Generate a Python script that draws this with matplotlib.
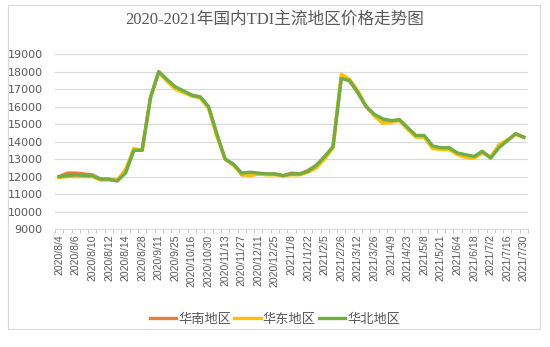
import matplotlib.pyplot as plt
from matplotlib.patches import Rectangle

dates = ['2020/8/4', '2020/8/5', '2020/8/6', '2020/8/7', '2020/8/10', '2020/8/11',
         '2020/8/12', '2020/8/13', '2020/8/14', '2020/8/21', '2020/8/28', '2020/9/4',
         '2020/9/11', '2020/9/18', '2020/9/25', '2020/10/9', '2020/10/16', '2020/10/23',
         '2020/10/30', '2020/11/6', '2020/11/13', '2020/11/20', '2020/11/27', '2020/12/4',
         '2020/12/11', '2020/12/18', '2020/12/25', '2021/1/1', '2021/1/8', '2021/1/15',
         '2021/1/22', '2021/1/29', '2021/2/5', '2021/2/19', '2021/2/26', '2021/3/5',
         '2021/3/12', '2021/3/19', '2021/3/26', '2021/4/2', '2021/4/9', '2021/4/16',
         '2021/4/23', '2021/4/30', '2021/5/8', '2021/5/14', '2021/5/21', '2021/5/28',
         '2021/6/4', '2021/6/11', '2021/6/18', '2021/6/25', '2021/7/2', '2021/7/9',
         '2021/7/16', '2021/7/23', '2021/7/30']

south = [12000, 12200, 12200, 12150, 12100, 11850, 11850, 11750, 12250, 13500,
         13500, 16500, 18000, 17500, 17100, 16850, 16650, 16550, 16000, 14400,
         13000, 12700, 12100, 12100, 12150, 12150, 12150, 12050, 12200, 12150,
         12350, 12650, 13100, 13700, 17700, 17450, 16800, 16000, 15500, 15200,
         15150, 15250, 14750, 14300, 14300, 13700, 13600, 13600, 13300, 13200,
         13100, 13400, 13100, 13800, 14050, 14450, 14250]

east = [11950, 12000, 12000, 12000, 12000, 11800, 11800, 11800, 12400, 13600,
        13500, 16500, 17950, 17450, 17000, 16800, 16600, 16500, 15900, 14300,
        13000, 12650, 12150, 12050, 12150, 12100, 12100, 12050, 12100, 12100,
        12250, 12500, 13000, 13650, 17850, 17550, 16900, 16000, 15450, 15050,
        15100, 15200, 14700, 14250, 14250, 13600, 13550, 13550, 13250, 13100,
        13050, 13350, 13100, 13800, 14100, 14400, 14250]

north = [12000, 12050, 12100, 12050, 12050, 11850, 11850, 11750, 12200, 13500,
         13500, 16500, 18000, 17550, 17130, 16900, 16650, 16550, 16000, 14450,
         13000, 12700, 12200, 12250, 12200, 12150, 12150, 12050, 12150, 12150,
         12300, 12650, 13150, 13700, 17600, 17500, 16800, 16000, 15550, 15300,
         15200, 15250, 14800, 14350, 14350, 13750, 13650, 13650, 13350, 13250,
         13150, 13450, 13050, 13650, 14050, 14450, 14250]

series = [('华南地区', south, '#ED7D31'),
          ('华东地区', east, '#FFC000'),
          ('华北地区', north, '#70AD47')]

gray = '#595959'
cjk = ['Liberation Sans', 'Noto Sans CJK SC']

fig = plt.figure(figsize=(5.5, 3.47), dpi=100)
ax = fig.add_axes([0.1, 0.34, 0.86, 0.504])

x = list(range(len(dates)))
for name, vals, color in series:
    ax.plot(x, vals, color=color, lw=2.4, label=name, solid_joinstyle='round')

ax.set_xlim(-0.5, len(dates) - 0.5)
ax.set_ylim(9000, 19000)
ax.set_yticks(range(9000, 19001, 1000))
ax.grid(axis='y', color='#d9d9d9', lw=0.8)
ax.set_axisbelow(True)
for s in ['top', 'right', 'left']:
    ax.spines[s].set_visible(False)
ax.spines['bottom'].set_color('#d9d9d9')

ax.set_xticks(x[::2])
ax.set_xticklabels(dates[::2], rotation=90, fontsize=7.5, color=gray, family=cjk)
ax.set_xticks([i - 0.5 for i in range(len(dates) + 1)], minor=True)
ax.tick_params(axis='x', which='major', length=0, pad=4)
ax.tick_params(axis='x', which='minor', length=3, color='#bfbfbf')
ax.tick_params(axis='y', length=0, labelsize=8, labelcolor=gray, pad=9)

fig.suptitle('2020-2021年国内TDI主流地区价格走势图', y=0.965, fontsize=12, color=gray,
             family=['Liberation Serif', 'Noto Sans CJK SC'])

fig.legend(loc='center', bbox_to_anchor=(0.5, 0.078), ncol=3, frameon=False,
           prop={'family': cjk, 'size': 9.5}, labelcolor=gray, handlelength=2.0,
           handletextpad=0.15, columnspacing=0.25)

fig.patches.append(Rectangle((8 / 550, 1 - 329 / 347), 532 / 550, 324 / 347,
                             transform=fig.transFigure, fill=False, ec='#d9d9d9', lw=0.8))

fig.savefig('out.png', dpi=100)
